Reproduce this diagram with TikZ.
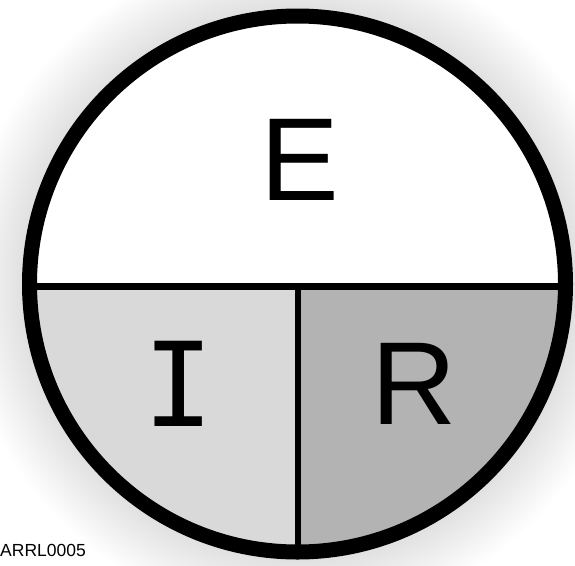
\documentclass[tikz,border=0pt]{standalone}
\usepackage{fontspec}
\setmainfont{Liberation Sans}
\newfontfamily\monofont{DejaVu Sans Mono}
\usetikzlibrary{positioning}
\definecolor{paleshade}{HTML}{D9D9D9}
\definecolor{darkshade}{HTML}{B3B3B3}

\begin{document}
\begin{tikzpicture}[x=1pt,y=-1pt,
 letter/.style={inner sep=0pt,font=\fontsize{118}{118}\selectfont},
 rim/.style={draw=black,line width=15pt},
 split/.style={draw=black,line width=6.5pt}]
 \useasboundingbox (0,0) rectangle (575,565);
 \coordinate (c) at (297.5,284);
 % soft halo round the disc
 \foreach \k in {1,...,30}
  \fill[black,opacity=0.0028] (c) circle ({275+2*\k});
 \fill[white] (c) circle (268);
 \begin{scope}
  \clip (c) circle (268);
  \fill[paleshade] (0,286.7) rectangle (298,565);
  \fill[darkshade] (298,286.7) rectangle (575,565);
  \draw[split] (0,286.7) -- (575,286.7);
  \draw[split] (298,286.7) -- (298,565);
 \end{scope}
 \draw[rim] (c) circle (268);
 \node[letter] (E) at (299.5,160) {E};
 \node[letter,font=\monofont\fontsize{117}{117}\selectfont] (I) at (178.7,384.3) {I};
 \node[letter] (R) at (414,384.3) {R};
 \node[inner sep=0pt,anchor=base west,font=\fontsize{17.5}{17.5}\selectfont] (tag) at (0,556.5) {ARRL0005};
\end{tikzpicture}
\end{document}
